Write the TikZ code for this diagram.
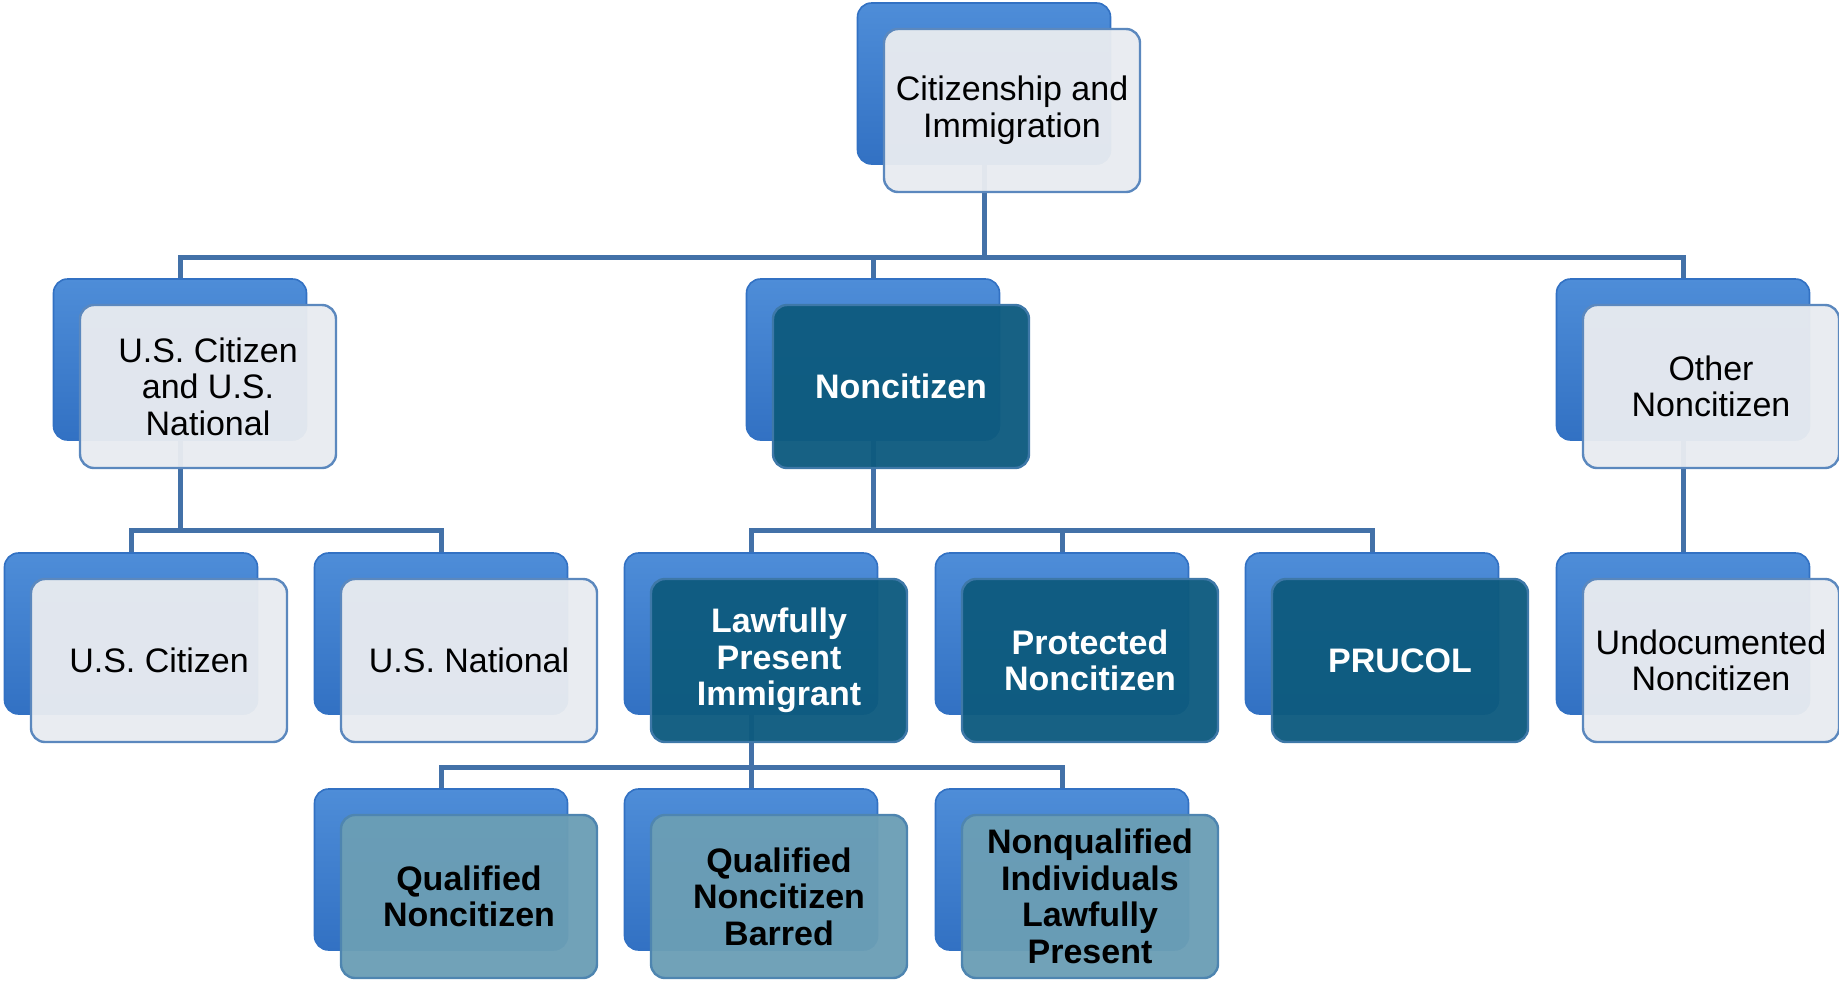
\documentclass[tikz,border=0pt]{standalone}
\usepackage{fontspec}
\setmainfont{Liberation Sans}
\usetikzlibrary{positioning}
\definecolor{backtop}{HTML}{4E8DD8}
\definecolor{backbot}{HTML}{3271C3}
\definecolor{lightfill}{HTML}{E8EBF0}
\definecolor{lightedge}{HTML}{5B88BE}
\definecolor{tealfill}{HTML}{0E5B7F}
\definecolor{tealedge}{HTML}{3E78A8}
\definecolor{palefill}{HTML}{6B9EB5}
\definecolor{paleedge}{HTML}{4E85B0}
\definecolor{connblue}{HTML}{4371A8}

\begin{document}
\begin{tikzpicture}[x=0.5pt,y=-0.5pt,
    backbox/.style={rectangle, rounded corners=7pt, minimum width=126.5pt, minimum height=80.5pt,
        top color=backtop, bottom color=backbot, draw=backbot, line width=0.8pt},
    frontbox/.style={rectangle, rounded corners=7pt, minimum width=128pt, minimum height=81.5pt,
        line width=1.2pt, fill opacity=0.96, text opacity=1, align=center, inner sep=1pt,
        font=\fontsize{17}{18.3}\selectfont},
    lightbox/.style={frontbox, fill=lightfill, draw=lightedge, text=black},
    tealbox/.style={frontbox, fill=tealfill, draw=tealedge, text=white, font=\fontsize{17}{18.3}\selectfont\bfseries},
    palebox/.style={frontbox, fill=palefill, draw=paleedge, text=black, font=\fontsize{17}{18.3}\selectfont\bfseries},
    conn/.style={draw=connblue, line width=2.5pt}]

    \useasboundingbox (0,0) rectangle (1839,980);

    % Bus levels
    \coordinate (bus1) at (0,257);
    \coordinate (bus2) at (0,530);
    \coordinate (bus3) at (0,767);

    % Back boxes
    \node [backbox] (top-b) at (984,83.5) {};
    \node [backbox] (usc-b) at (180,359.5) {};
    \node [backbox] (non-b) at (873,359.5) {};
    \node [backbox] (oth-b) at (1683,359.5) {};
    \node [backbox] (cit-b) at (131,633.5) {};
    \node [backbox] (nat-b) at (441,633.5) {};
    \node [backbox] (lpi-b) at (751,633.5) {};
    \node [backbox] (pro-b) at (1062,633.5) {};
    \node [backbox] (pru-b) at (1372,633.5) {};
    \node [backbox] (und-b) at (1683,633.5) {};
    \node [backbox] (qn-b) at (441,869.5) {};
    \node [backbox] (qnb-b) at (751,869.5) {};
    \node [backbox] (nq-b) at (1062,869.5) {};

    % Connections
    \foreach \c in {usc,non,oth}
        \draw [conn] (top-b.south) |- (bus1 -| \c-b.north) -- (\c-b.north);
    \foreach \c in {cit,nat}
        \draw [conn] (usc-b.south) |- (bus2 -| \c-b.north) -- (\c-b.north);
    \foreach \c in {lpi,pro,pru}
        \draw [conn] (non-b.south) |- (bus2 -| \c-b.north) -- (\c-b.north);
    \draw [conn] (oth-b.south) -- (und-b.north);
    \foreach \c in {qn,qnb,nq}
        \draw [conn] (lpi-b.south) |- (bus3 -| \c-b.north) -- (\c-b.north);

    % Front boxes
    \node [lightbox] (top) at ([shift={(28,27)}]top-b) {Citizenship and\\Immigration};
    \node [lightbox] (usc) at ([shift={(28,27)}]usc-b) {U.S. Citizen\\and U.S.\\National};
    \node [tealbox] (non) at ([shift={(28,27)}]non-b) {Noncitizen};
    \node [lightbox] (oth) at ([shift={(28,27)}]oth-b) {Other\\Noncitizen};
    \node [lightbox] (cit) at ([shift={(28,27)}]cit-b) {U.S. Citizen};
    \node [lightbox] (nat) at ([shift={(28,27)}]nat-b) {U.S. National};
    \node [tealbox] (lpi) at ([shift={(28,27)}]lpi-b) {Lawfully\\Present\\Immigrant};
    \node [tealbox] (pro) at ([shift={(28,27)}]pro-b) {Protected\\Noncitizen};
    \node [tealbox] (pru) at ([shift={(28,27)}]pru-b) {PRUCOL};
    \node [lightbox] (und) at ([shift={(28,27)}]und-b) {Undocumented\\Noncitizen};
    \node [palebox] (qn) at ([shift={(28,27)}]qn-b) {Qualified\\Noncitizen};
    \node [palebox] (qnb) at ([shift={(28,27)}]qnb-b) {Qualified\\Noncitizen\\Barred};
    \node [palebox] (nq) at ([shift={(28,27)}]nq-b) {Nonqualified\\Individuals\\Lawfully\\Present};

\end{tikzpicture}
\end{document}
